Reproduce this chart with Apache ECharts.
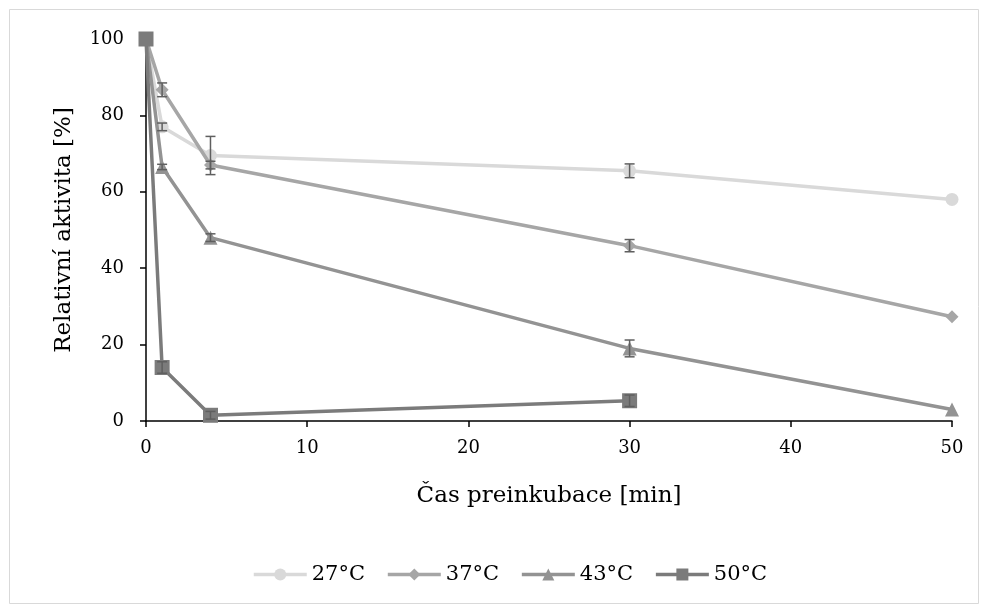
<!DOCTYPE html>
<html><head><meta charset="utf-8">
<script src="https://cdn.jsdelivr.net/npm/echarts@6/dist/echarts.min.js"></script>
<style>html,body{margin:0;padding:0;background:#fff}#c{width:981px;height:605px}</style>
</head><body><div id="c"></div>
<script>
const times = [0, 1, 4, 30, 50];
const seriesNames = ['27°C', '37°C', '43°C', '50°C'];
const v27 = [100, 77, 69.5, 65.5, 58];
const v37 = [100, 86.7, 67, 45.9, 27.3];
const v43 = [100, 66.5, 48, 19, 3];
const v50 = [100, 14, 1.5, 5.3];
const e27 = [0, 1, 5, 1.8, 0];
const e37 = [0, 1.8, 1, 1.6, 0];
const e43 = [0, 0.7, 1, 2.2, 0];
const e50 = [0, 1.5, 1, 1.5];
const xTicks = [0, 10, 20, 30, 40, 50];
const yTicks = [0, 20, 40, 60, 80, 100];

const colors = ['#d9d9d9', '#a6a6a6', '#939393', '#7b7b7b'];
const symbols = ['circle', 'diamond', 'triangle', 'rect'];
const symSizes = [13, 13, 14, 15];
const vals = [v27, v37, v43, v50];
const errs = [e27, e37, e43, e50];
const FONT = 'DejaVu Serif';

const series = [];
vals.forEach((v, i) => {
  series.push({
    name: seriesNames[i], type: 'line',
    data: v.map((y, k) => [times[k], y]),
    symbol: symbols[i], symbolSize: symSizes[i],
    lineStyle: {color: colors[i], width: 3.5},
    itemStyle: {color: colors[i]},
    z: 3 + i
  });
});
errs.forEach((e, i) => {
  series.push({
    type: 'custom', name: seriesNames[i] + ' err',
    data: e.map((d, k) => [times[k], vals[i][k], d]).filter(d => d[2] > 0),
    renderItem: function (params, api) {
      const x = api.value(0), y = api.value(1), d = api.value(2);
      const top = api.coord([x, y + d]);
      const bot = api.coord([x, y - d]);
      const w = 5;
      const st = {stroke: '#5f5f5f', lineWidth: 1.5};
      return {type: 'group', children: [
        {type: 'line', shape: {x1: top[0], y1: top[1], x2: bot[0], y2: bot[1]}, style: st},
        {type: 'line', shape: {x1: top[0] - w, y1: top[1], x2: top[0] + w, y2: top[1]}, style: st},
        {type: 'line', shape: {x1: bot[0] - w, y1: bot[1], x2: bot[0] + w, y2: bot[1]}, style: st}
      ]};
    },
    z: 10, silent: true
  });
});

const chart = echarts.init(document.getElementById('c'));
chart.setOption({
  animation: false,
  backgroundColor: '#fff',
  graphic: [{type: 'rect', shape: {x: 9.5, y: 9.5, width: 969, height: 594}, style: {fill: 'none', stroke: '#d9d9d9', lineWidth: 1}, silent: true}],
  grid: {left: 146, right: 29, top: 39, bottom: 184},
  legend: {
    data: seriesNames, left: 247, top: 559, itemWidth: 53, itemHeight: 15, itemGap: 21,
    lineStyle: {width: 3.5},
    textStyle: {fontFamily: FONT, fontSize: 21, color: '#000'}
  },
  xAxis: {
    type: 'value', min: 0, max: 50, interval: 10,
    name: 'Čas preinkubace [min]', nameLocation: 'middle', nameGap: 64,
    nameTextStyle: {fontFamily: FONT, fontSize: 23, color: '#000'},
    axisLine: {onZero: false, lineStyle: {color: '#000', width: 1.5}},
    axisTick: {show: true, length: 6, lineStyle: {color: '#000', width: 1.5}},
    axisLabel: {fontFamily: FONT, fontSize: 18, color: '#000', margin: 18, formatter: v => xTicks.includes(v) ? String(v) : ''},
    splitLine: {show: false}
  },
  yAxis: {
    type: 'value', min: 0, max: 100, interval: 20,
    name: 'Relativní aktivita [%]', nameLocation: 'middle', nameGap: 70,
    nameTextStyle: {fontFamily: FONT, fontSize: 23, color: '#000'},
    axisLine: {show: true, lineStyle: {color: '#000', width: 1.5}},
    axisTick: {show: true, length: 6, lineStyle: {color: '#000', width: 1.5}},
    axisLabel: {fontFamily: FONT, fontSize: 18, color: '#000', margin: 22, formatter: v => yTicks.includes(v) ? String(v) : ''},
    splitLine: {show: false}
  },
  series: series
});
</script></body></html>
